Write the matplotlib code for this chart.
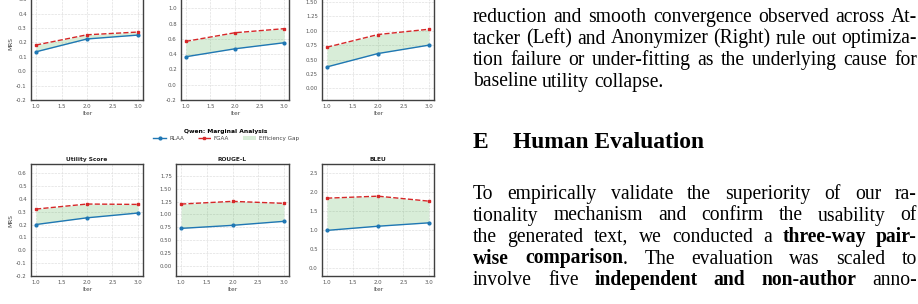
import matplotlib
matplotlib.use("Agg")
import matplotlib.pyplot as plt
from matplotlib.ticker import MultipleLocator, FormatStrFormatter, FixedLocator
from matplotlib.lines import Line2D
from matplotlib.patches import Patch

W, H = 918, 304

# ---------------- data ----------------
iters = [1.0, 2.0, 3.0]
metrics = ["Utility Score", "ROUGE-L", "BLEU"]

llama_rlaa_utility = [0.135, 0.224, 0.251]
llama_fgaa_utility = [0.182, 0.253, 0.272]
llama_rlaa_rouge = [0.366, 0.470, 0.549]
llama_fgaa_rouge = [0.567, 0.680, 0.733]
llama_rlaa_bleu = [0.374, 0.605, 0.750]
llama_fgaa_bleu = [0.715, 0.934, 1.026]

qwen_rlaa_utility = [0.200, 0.252, 0.289]
qwen_fgaa_utility = [0.320, 0.359, 0.356]
qwen_rlaa_rouge = [0.727, 0.786, 0.864]
qwen_fgaa_rouge = [1.200, 1.253, 1.214]
qwen_rlaa_bleu = [0.990, 1.100, 1.190]
qwen_fgaa_bleu = [1.844, 1.897, 1.765]

series_labels = ["RLAA", "FGAA", "Efficiency Gap"]
legend_title = "Qwen: Marginal Analysis"

BLUE = "#1f77b4"
RED = "#d62728"
GREEN = "#2ca02c"

fig = plt.figure(figsize=(W / 100, H / 100), dpi=100)
fig.patch.set_facecolor("white")


def add_ax(l, r, t, b):
    return fig.add_axes([l / W, 1 - b / H, (r - l) / W, (b - t) / H])


def style(ax, ylim, ystep, fmt, first_col, ymax_tick=None):
    ax.set_xlim(0.9, 3.1)
    ax.set_ylim(*ylim)
    ax.xaxis.set_major_locator(MultipleLocator(0.5))
    if ymax_tick is None:
        ax.yaxis.set_major_locator(MultipleLocator(ystep))
    else:
        n = int(round((ymax_tick + 0.2) / ystep))
        ax.yaxis.set_major_locator(FixedLocator([-0.2 + k * ystep for k in range(n + 1)]))
    ax.yaxis.set_major_formatter(FormatStrFormatter(fmt))
    ax.xaxis.set_major_formatter(FormatStrFormatter("%.1f"))
    ax.grid(True, linestyle="--", linewidth=0.45, color="#dcdcdc")
    ax.set_axisbelow(True)
    for s in ax.spines.values():
        s.set_color("#404040")
        s.set_linewidth(1.0)
    ax.tick_params(length=0, labelsize=3.9, labelcolor="#555555", pad=3.0)
    ax.set_xlabel("Iter", fontsize=4.2, color="#444444", labelpad=1.5)
    if first_col:
        ax.set_ylabel("MRS", fontsize=4.2, color="#444444", labelpad=2.0)


def draw(ax, rlaa, fgaa):
    ax.fill_between(iters, rlaa, fgaa, color=GREEN, alpha=0.18, linewidth=0)
    ax.plot(iters, rlaa, "-o", color=BLUE, lw=1.0, ms=2.0)
    ax.plot(iters, fgaa, "--s", color=RED, lw=1.0, ms=1.8)


# top row (cropped at the top of the page)
top_cols = [(31, 143), (181, 289), (322, 434)]
top_data = [(llama_rlaa_utility, llama_fgaa_utility, (-0.2, 0.578), 0.1, "%.1f", None),
            (llama_rlaa_rouge, llama_fgaa_rouge, (-0.2, 1.265), 0.2, "%.1f", 1.0),
            (llama_rlaa_bleu, llama_fgaa_bleu, (-0.2, 1.74), 0.25, "%.2f", None)]
for i, ((l, r), (a, b, yl, st, fm, mt)) in enumerate(zip(top_cols, top_data)):
    ax = add_ax(l, r, -12, 100)
    draw(ax, a, b)
    style(ax, yl, st, fm, i == 0, mt)

# bottom row
bot_cols = [(31, 143), (176, 289), (322, 434)]
bot_data = [(qwen_rlaa_utility, qwen_fgaa_utility, (-0.2, 0.67), 0.1, "%.1f"),
            (qwen_rlaa_rouge, qwen_fgaa_rouge, (-0.2, 1.98), 0.25, "%.2f"),
            (qwen_rlaa_bleu, qwen_fgaa_bleu, (-0.22, 2.75), 0.5, "%.1f")]
for i, ((l, r), (a, b, yl, st, fm)) in enumerate(zip(bot_cols, bot_data)):
    ax = add_ax(l, r, 164, 276)
    draw(ax, a, b)
    style(ax, yl, st, fm, i == 0)
    ax.set_title(metrics[i], fontsize=4.2, fontweight="bold", color="#222222", pad=2.5)

handles = [Line2D([], [], color=BLUE, lw=1.0, marker="o", ms=2.0),
           Line2D([], [], color=RED, lw=1.0, ls="--", marker="s", ms=1.8),
           Patch(facecolor=GREEN, alpha=0.18, edgecolor="none")]
leg = fig.legend(handles, series_labels, loc="center", bbox_to_anchor=(226 / W, 1 - 135 / H),
                 ncol=3, frameon=False, fontsize=4.1, handlelength=2.3, columnspacing=2.4,
                 handletextpad=0.5, title=legend_title,
                 title_fontproperties={"weight": "bold", "size": 4.3}, borderpad=0.1,
                 labelspacing=0.2)
for t in leg.get_texts():
    t.set_color("#444444")

# ---------------- right-hand page text ----------------
fig.canvas.draw()
rend = fig.canvas.get_renderer()
SERIF = "Liberation Serif"


def wpx(s, size, bold):
    t = fig.text(0, 0, s, fontsize=size, family=SERIF, weight="bold" if bold else "normal")
    w = t.get_window_extent(renderer=rend).width
    t.remove()
    return w


body = 10 * 432 / wpx("reduction and smooth convergence observed across At-", 10, False)
head = 10 * 192 / wpx("Human Evaluation", 10, True)

LEFT, RIGHT = 473, 917


def put(x, y, s, size, bold):
    fig.text(x / W, 1 - y / H, s, fontsize=size, family=SERIF,
             weight="bold" if bold else "normal", va="baseline", ha="left", color="black")


def line(words, y, justify=True):
    widths = [sum(wpx(p, body, b) for p, b in w) for w in words]
    if justify and len(words) > 1:
        gap = (RIGHT - LEFT - sum(widths)) / (len(words) - 1)
    else:
        gap = wpx("a b", body, False) - wpx("ab", body, False)
    x = LEFT
    for w, ww in zip(words, widths):
        xx = x
        for p, b in w:
            put(xx, y, p, body, b)
            xx += wpx(p, body, b)
        x += ww + gap


def plain(s, bold=False):
    return [[(w, bold)] for w in s.split()]


base1 = [22, 43.5, 65, 86.5]
line(plain("reduction and smooth convergence observed across At-"), base1[0])
line(plain("tacker (Left) and Anonymizer (Right) rule out optimiza-"), base1[1])
line(plain("tion failure or under-fitting as the underlying cause for"), base1[2])
line(plain("baseline utility collapse."), base1[3], justify=False)

fig.text(LEFT / W, 1 - 148 / H, "E", fontsize=head, family=SERIF, weight="bold", va="baseline")
fig.text(513 / W, 1 - 148 / H, "Human Evaluation", fontsize=head, family=SERIF, weight="bold",
         va="baseline")

base2 = [199, 220.5, 242, 263.5, 285]
line(plain("To empirically validate the superiority of our ra-"), base2[0])
line(plain("tionality mechanism and confirm the usability of"), base2[1])
line(plain("the generated text, we conducted a") + plain("three-way pair-", True), base2[2])
line([[("wise", True)], [("comparison", True), (".", False)]] +
     plain("The evaluation was scaled to"), base2[3])
line(plain("involve five") + plain("independent and non-author", True) + plain("anno-"), base2[4])

fig.savefig("out.png", dpi=100, facecolor="white")
